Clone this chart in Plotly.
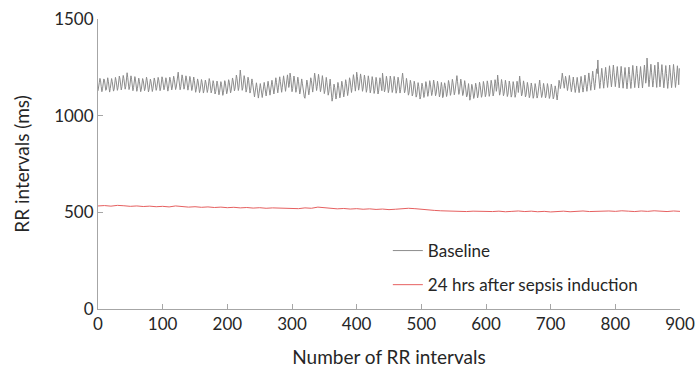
import plotly.graph_objects as go

# RR interval series: one value per beat (ms)
baseline_rr = [
    1128, 1142, 1171, 1193, 1180, 1150, 1124, 1139, 1168, 1190, 1184, 1152, 1131, 1135, 1165, 1196, 1178, 1147, 1122, 1141, 1172, 1192, 1176, 1149, 1127, 1138, 1170, 1198, 1181, 1153,
    1131, 1146, 1178, 1205, 1189, 1158, 1133, 1150, 1184, 1208, 1192, 1161, 1137, 1152, 1190, 1222, 1197, 1163, 1135, 1149, 1181, 1206, 1186, 1156, 1129, 1145, 1176, 1202, 1185, 1152,
    1126, 1140, 1170, 1194, 1178, 1148, 1124, 1137, 1167, 1192, 1181, 1150, 1129, 1143, 1174, 1199, 1183, 1151, 1123, 1136, 1165, 1189, 1175, 1146, 1125, 1141, 1172, 1195, 1179, 1149,
    1131, 1145, 1175, 1198, 1184, 1153, 1129, 1143, 1173, 1201, 1186, 1156, 1134, 1147, 1178, 1196, 1180, 1150, 1127, 1142, 1172, 1199, 1187, 1157, 1133, 1148, 1180, 1204, 1188, 1158,
    1135, 1148, 1182, 1207, 1225, 1190, 1153, 1134, 1150, 1185, 1211, 1194, 1160, 1137, 1152, 1183, 1206, 1190, 1158, 1132, 1147, 1178, 1203, 1188, 1155, 1130, 1144, 1176, 1200, 1181,
    1148, 1121, 1136, 1165, 1190, 1174, 1143, 1119, 1133, 1163, 1187, 1172, 1140, 1117, 1131, 1160, 1184, 1169, 1139, 1120, 1136, 1166, 1192, 1176, 1144, 1118, 1130, 1158, 1181, 1167,
    1137, 1112, 1124, 1153, 1179, 1165, 1134, 1108, 1121, 1150, 1176, 1162, 1130, 1105, 1119, 1152, 1181, 1168, 1138, 1113, 1127, 1158, 1186, 1173, 1142, 1118, 1132, 1165, 1195, 1180,
    1149, 1128, 1143, 1180, 1210, 1192, 1155, 1130, 1147, 1188, 1236, 1204, 1160, 1131, 1144, 1179, 1207, 1189, 1150, 1122, 1136, 1170, 1199, 1183, 1145, 1117, 1130, 1162, 1190, 1172,
    1133, 1104, 1097, 1122, 1157, 1170, 1146, 1112, 1091, 1115, 1150, 1166, 1142, 1108, 1094, 1119, 1154, 1172, 1150, 1118, 1102, 1127, 1162, 1178, 1154, 1121, 1106, 1133, 1168, 1183,
    1160, 1125, 1112, 1138, 1178, 1196, 1172, 1135, 1118, 1144, 1184, 1201, 1176, 1139, 1121, 1147, 1188, 1206, 1180, 1142, 1126, 1153, 1195, 1211, 1183, 1146, 1162, 1220, 1198, 1159,
    1124, 1140, 1180, 1205, 1185, 1148, 1121, 1136, 1176, 1199, 1178, 1139, 1112, 1128, 1166, 1190, 1168, 1130, 1104, 1097, 1090, 1121, 1160, 1184, 1163, 1127, 1108, 1131, 1171, 1196,
    1182, 1143, 1122, 1149, 1190, 1220, 1195, 1154, 1130, 1151, 1193, 1214, 1188, 1147, 1124, 1142, 1183, 1207, 1180, 1139, 1114, 1131, 1172, 1198, 1172, 1132, 1106, 1122, 1163, 1189,
    1150, 1098, 1075, 1094, 1135, 1163, 1146, 1108, 1086, 1105, 1146, 1172, 1155, 1115, 1092, 1112, 1153, 1178, 1160, 1121, 1097, 1118, 1161, 1186, 1167, 1127, 1104, 1126, 1170, 1196,
    1180, 1138, 1120, 1145, 1188, 1212, 1190, 1147, 1127, 1160, 1225, 1203, 1160, 1132, 1149, 1192, 1216, 1193, 1150, 1126, 1143, 1186, 1210, 1187, 1145, 1121, 1139, 1181, 1206, 1184,
    1141, 1118, 1134, 1176, 1202, 1181, 1139, 1115, 1130, 1171, 1198, 1178, 1136, 1112, 1128, 1169, 1196, 1177, 1137, 1129, 1220, 1192, 1150, 1123, 1137, 1178, 1204, 1183, 1142, 1119,
    1136, 1178, 1205, 1186, 1144, 1120, 1135, 1177, 1203, 1181, 1140, 1116, 1131, 1172, 1199, 1180, 1139, 1117, 1134, 1175, 1200, 1220, 1188, 1144, 1118, 1130, 1168, 1193, 1170, 1129,
    1106, 1118, 1157, 1183, 1166, 1127, 1102, 1114, 1153, 1178, 1160, 1120, 1096, 1108, 1146, 1171, 1151, 1110, 1086, 1099, 1140, 1168, 1152, 1115, 1094, 1110, 1150, 1176, 1159, 1121,
    1100, 1116, 1156, 1181, 1163, 1125, 1104, 1119, 1158, 1184, 1165, 1126, 1103, 1117, 1155, 1178, 1158, 1118, 1097, 1111, 1149, 1172, 1150, 1093, 1102, 1141, 1170, 1156, 1118, 1099,
    1114, 1154, 1182, 1166, 1127, 1105, 1120, 1160, 1188, 1170, 1131, 1108, 1123, 1163, 1191, 1207, 1176, 1135, 1110, 1124, 1162, 1189, 1168, 1128, 1104, 1117, 1155, 1181, 1160, 1120,
    1097, 1105, 1140, 1166, 1128, 1080, 1094, 1133, 1162, 1148, 1110, 1089, 1102, 1141, 1168, 1151, 1113, 1092, 1106, 1146, 1173, 1156, 1117, 1095, 1108, 1149, 1177, 1159, 1120, 1098,
    1111, 1152, 1180, 1162, 1121, 1100, 1114, 1155, 1183, 1165, 1124, 1102, 1117, 1158, 1186, 1168, 1126, 1150, 1210, 1178, 1134, 1106, 1119, 1160, 1187, 1166, 1125, 1103, 1116, 1157,
    1183, 1163, 1122, 1099, 1112, 1152, 1179, 1160, 1119, 1096, 1108, 1148, 1176, 1158, 1117, 1095, 1110, 1151, 1178, 1159, 1120, 1160, 1205, 1175, 1130, 1102, 1113, 1152, 1180, 1161,
    1120, 1097, 1108, 1146, 1172, 1153, 1114, 1093, 1105, 1143, 1169, 1150, 1111, 1090, 1102, 1140, 1166, 1148, 1110, 1091, 1104, 1145, 1171, 1184, 1152, 1110, 1094, 1106, 1142, 1167,
    1149, 1110, 1092, 1104, 1141, 1166, 1148, 1109, 1089, 1101, 1138, 1163, 1145, 1106, 1087, 1098, 1131, 1154, 1135, 1096, 1081, 1110, 1152, 1183, 1167, 1140, 1160, 1198, 1220, 1194,
    1158, 1142, 1170, 1204, 1186, 1148, 1130, 1152, 1190, 1208, 1178, 1140, 1124, 1145, 1182, 1200, 1172, 1134, 1120, 1140, 1179, 1198, 1170, 1131, 1119, 1142, 1183, 1203, 1175, 1136,
    1122, 1146, 1187, 1210, 1180, 1139, 1126, 1152, 1196, 1221, 1190, 1146, 1131, 1160, 1205, 1230, 1197, 1151, 1134, 1166, 1214, 1242, 1218, 1288, 1215, 1160, 1141, 1172, 1220, 1245,
    1210, 1160, 1142, 1176, 1226, 1250, 1214, 1163, 1146, 1181, 1232, 1258, 1219, 1166, 1149, 1184, 1236, 1262, 1224, 1170, 1150, 1182, 1230, 1254, 1216, 1163, 1144, 1178, 1229, 1255,
    1217, 1162, 1142, 1175, 1224, 1249, 1210, 1158, 1139, 1172, 1223, 1251, 1213, 1160, 1141, 1177, 1230, 1260, 1221, 1166, 1145, 1180, 1232, 1257, 1218, 1163, 1143, 1176, 1228, 1254,
    1215, 1160, 1143, 1180, 1235, 1262, 1222, 1168, 1190, 1298, 1246, 1175, 1150, 1186, 1240, 1266, 1225, 1170, 1148, 1182, 1236, 1261, 1220, 1165, 1146, 1200, 1277, 1238, 1172, 1149,
    1185, 1240, 1264, 1222, 1166, 1144, 1179, 1234, 1259, 1218, 1162, 1141, 1176, 1232, 1262, 1225, 1168, 1145, 1180, 1236, 1265, 1227, 1170, 1146, 1178, 1233, 1258, 1216, 1160, 1245,
]
baseline_beat = list(range(len(baseline_rr)))

# Post-sepsis series, sampled every 10 beats (ms)
sepsis_beat = list(range(0, 901, 10))
sepsis_rr = [
    533, 535, 532, 536, 534, 531, 533, 530, 532, 529,
    531, 528, 533, 530, 527, 529, 526, 528, 525, 527,
    524, 526, 523, 525, 522, 524, 521, 523, 522, 520,
    522, 519, 523, 521, 527, 524, 520, 518, 520, 517,
    519, 516, 518, 515, 517, 514, 516, 518, 521, 519,
    515, 513, 510, 508, 507, 505, 507, 504, 506, 505,
    507, 504, 506, 503, 505, 507, 504, 506, 503, 505,
    502, 504, 506, 503, 505, 507, 504, 506, 505, 507,
    505, 508, 506, 504, 507, 505, 508, 506, 504, 507,
    505,
]

x_ticks = [0, 100, 200, 300, 400, 500, 600, 700, 800, 900]
y_ticks = [0, 500, 1000, 1500]

FONT = "Lato"
AXIS_GREY = "#a6a6a6"
TEXT = "#262626"

fig = go.Figure()
fig.add_trace(go.Scatter(
    x=baseline_beat, y=baseline_rr, mode="lines", name="Baseline",
    line=dict(color="#8c8c8c", width=1), legendgroup="a",
))
fig.add_trace(go.Scatter(
    x=sepsis_beat, y=sepsis_rr, mode="lines", name="24 hrs after sepsis induction",
    line=dict(color="#e66060", width=1), legendgroup="b",
))

axis_common = dict(
    showline=True, linecolor=AXIS_GREY, linewidth=1,
    ticks="inside", ticklen=5, tickcolor=AXIS_GREY, tickwidth=1,
    showgrid=False, zeroline=False, automargin=False,
    tickfont=dict(family=FONT, size=17, color=TEXT),
)

fig.update_layout(
    width=700, height=371,
    margin=dict(l=98, r=20, t=19, b=62),
    paper_bgcolor="white", plot_bgcolor="white",
    font=dict(family=FONT, color=TEXT),
    xaxis=dict(range=[0, 900], tickvals=x_ticks,
               title=dict(text="Number of RR intervals", font=dict(size=19, family=FONT, color=TEXT), standoff=17),
               **axis_common),
    yaxis=dict(range=[0, 1500], tickvals=y_ticks,
               title=dict(text="RR intervals (ms)", font=dict(size=19, family=FONT, color=TEXT), standoff=19),
               **axis_common),
    showlegend=True,
    legend=dict(
        x=0.498, y=0.262, xanchor="left", yanchor="top",
        font=dict(family=FONT, size=17, color=TEXT),
        bgcolor="rgba(0,0,0,0)", itemwidth=30, tracegroupgap=9,
        traceorder="grouped",
    ),
)

fig.write_html("out.html")
